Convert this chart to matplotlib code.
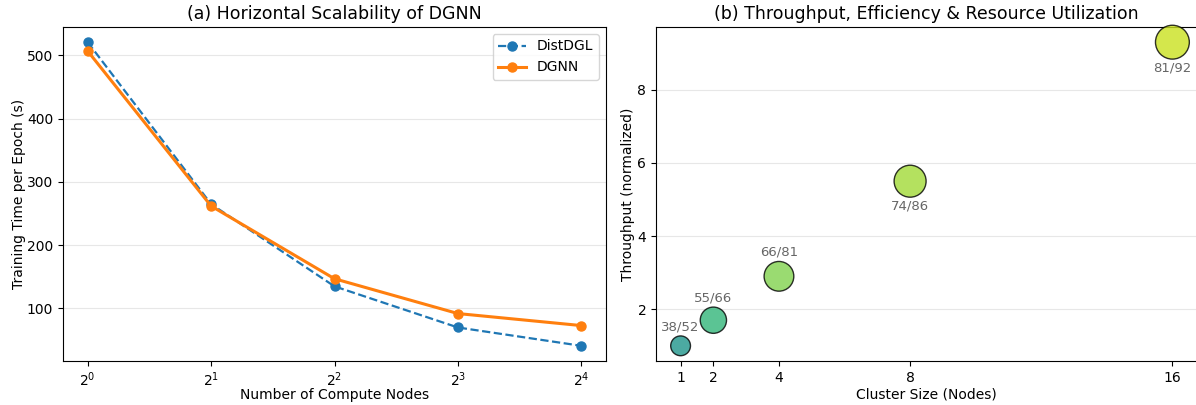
import numpy as np
import matplotlib
matplotlib.use("Agg")
import matplotlib.pyplot as plt

# (a) training time per epoch
nodes = [1, 2, 4, 8, 16]
distdgl_time = [521, 265, 135, 70, 41]
dgnn_time = [507, 262, 147, 92, 73]

# (b) throughput / efficiency / utilization
cluster = [1, 2, 4, 8, 16]
throughput = [1.0, 1.7, 2.9, 5.5, 9.3]
efficiency = [38, 55, 66, 74, 81]
utilization = [52, 66, 81, 86, 92]

fig = plt.figure(figsize=(11.96, 4.05), dpi=100)
ax1 = fig.add_axes([63 / 1196, 1 - 361 / 405, (606 - 63) / 1196, (361 - 27) / 405])
ax2 = fig.add_axes([656 / 1196, 1 - 361 / 405, (1197 - 656) / 1196, (361 - 27) / 405])

# --- left: scalability ---
ax1.plot(nodes, distdgl_time, "o--", color="#1f77b4", lw=1.6, ms=6.5, label="DistDGL")
ax1.plot(nodes, dgnn_time, "o-", color="#ff7f0e", lw=2.2, ms=6.5, label="DGNN")
ax1.set_xscale("log", base=2)
ax1.set_xticks(nodes)
ax1.set_xlabel("Number of Compute Nodes", fontsize=10, labelpad=-1)
ax1.set_ylabel("Training Time per Epoch (s)", fontsize=10, labelpad=1)
ax1.set_title("(a) Horizontal Scalability of DGNN", fontsize=12.5)
ax1.grid(axis="y", alpha=0.3)
ax1.legend(fontsize=10, loc="upper right")

# --- right: bubbles ---
sizes = np.array([(7 * e - 110) * 1.3 for e in efficiency], dtype=float)
colors = plt.cm.viridis(np.array(utilization) / 100)
ax2.scatter(cluster, throughput, s=sizes, c=colors, alpha=0.8,
            edgecolor="black", linewidth=1.0, zorder=3, clip_on=False)
for x, y, e, u, s in zip(cluster, throughput, efficiency, utilization, sizes):
    off = np.sqrt(s) / 2 + 6.5
    if x > 4:
        off = -off
    ax2.annotate(f"{e}/{u}", (x, y), xytext=(0, off),
                 textcoords="offset points", ha="center", va="center",
                 fontsize=9.5, color="#666666")
ax2.set_xticks(cluster)
ax2.set_xlabel("Cluster Size (Nodes)", fontsize=10, labelpad=2)
ax2.set_ylabel("Throughput (normalized)", fontsize=10, labelpad=2)
ax2.set_title("(b) Throughput, Efficiency & Resource Utilization", fontsize=12.5)
ax2.grid(axis="y", alpha=0.3)

fig.savefig("out.png", dpi=100)
